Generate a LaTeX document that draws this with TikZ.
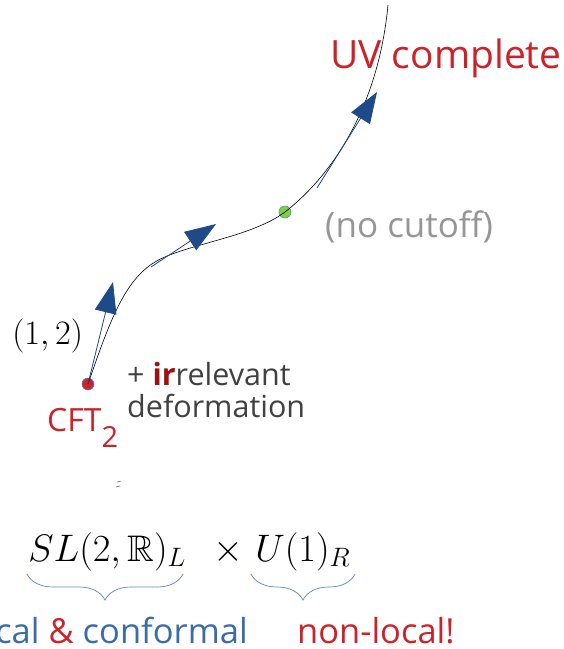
\documentclass[tikz,border=0pt]{standalone}
\usepackage{amsmath,amssymb}
\usepackage{fontspec}
\setmainfont{Open Sans}
\usetikzlibrary{decorations.pathreplacing, calc, arrows.meta, positioning}
\definecolor{uvred}{RGB}{204, 34, 40}
\definecolor{flowblue}{RGB}{30, 74, 138}
\definecolor{labelblue}{RGB}{58, 108, 170}
\definecolor{bracblue}{RGB}{90, 135, 195}
\definecolor{fixgreen}{RGB}{125, 210, 60}
\definecolor{softgray}{RGB}{150, 150, 150}
\definecolor{darktext}{RGB}{64, 64, 64}
\definecolor{irred}{RGB}{160, 16, 16}
\newcommand{\fsz}[1]{\fontsize{#1}{1.1\dimexpr #1pt\relax}\selectfont}

\begin{document}
\begin{tikzpicture}[
	x=1pt, y=-1pt,
	% Styles for the flow
	rgcurve/.style={black, line width=0.6pt},
	flowarrow/.style={flowblue, line width=0.8pt, -{Triangle[length=31pt, width=22pt]}},
	fixdot/.style={circle, draw=bracblue, line width=0.6pt, minimum size=12pt, inner sep=0pt},
	% Styles for text
	redlabel/.style={text=uvred, inner sep=0pt},
	graylabel/.style={text=softgray, inner sep=0pt},
	mathsym/.style={inner sep=0pt, font=\fsz{20}, scale=1.85},
	underbrace/.style={decorate, decoration={brace, mirror, amplitude=26pt}, bracblue, line width=0.7pt}
	]
	\useasboundingbox (0,0) rectangle (564,649);
	
	% ==========================================
	% RG FLOW LINE
	% ==========================================
	\node[fixdot, fill=uvred] (cft) at (88,384) {};
	\node[fixdot, fill=fixgreen] (uvfix) at (285,212) {};
	\coordinate (top) at (388,5);
	\coordinate (bend) at (155,262);
	
	\draw[rgcurve] (cft.center) .. controls (110,320) and (125,280) .. (bend)
		.. controls (185,244) and (250,238) .. (uvfix.center)
		.. controls (330,177) and (378,110) .. (top);
	
	% Flow arrows along the line
	\coordinate (a1tip) at (113,282);
	\coordinate (a2s) at (151,267);
	\coordinate (a2tip) at (216,224);
	\coordinate (a3s) at (317,188);
	\coordinate (a3tip) at (377,92);
	\draw[flowarrow] (cft.center) -- (a1tip);
	\draw[flowarrow] (a2s) -- (a2tip);
	\draw[flowarrow] (a3s) -- (a3tip);
	
	% ==========================================
	% LABELS
	% ==========================================
	\node[redlabel, anchor=base west, font=\fsz{39}] (uv) at (330,68) {UV complete};
	\node[graylabel, anchor=base west, font=\fsz{35}] (nocut) at (325,237) {(no cutoff)};
	\node[inner sep=0pt, anchor=base west, font=\fsz{20}, scale=1.65] (pair) at (12,344) {$(1,2)$};
	\node[redlabel, anchor=base west, font=\fsz{32}] (cftlab) at (47,431)
		{CFT\raisebox{-16pt}{\fsz{29}2}};
	\node[text=darktext, inner sep=0pt, anchor=base west, font=\fsz{30.5}] (plus) at (127,385)
		{+ \textcolor{irred}{\textbf{ir}}relevant};
	\node[text=darktext, inner sep=0pt, anchor=base west, font=\fsz{30.5}] (deform) at (127,417)
		{deformation};
	
	% stray mark
	\draw[black!70, line width=0.5pt] (117,482) -- (121,481) (116,487) -- (120,486);
	
	% ==========================================
	% SYMMETRY GROUPS
	% ==========================================
	\node[mathsym, anchor=base west] (sl) at (28,561) {$SL(2,\mathbb{R})_L$};
	\node[mathsym, anchor=base west] (times) at (213,561) {$\times$};
	\node[mathsym, anchor=base west] (uone) at (255,561) {$U(1)_R$};
	
	\draw[underbrace] (27,574) -- (183,574);
	\draw[underbrace] (251,574) -- (355,574);
	
	\node[text=labelblue, inner sep=0pt, anchor=base east, font=\fsz{34.5}] (local) at (248,643)
		{local \textcolor{uvred}{\&} conformal};
	\node[redlabel, anchor=base west, font=\fsz{34.5}] (nonlocal) at (297,643) {non-local!};
	
\end{tikzpicture}
\end{document}
